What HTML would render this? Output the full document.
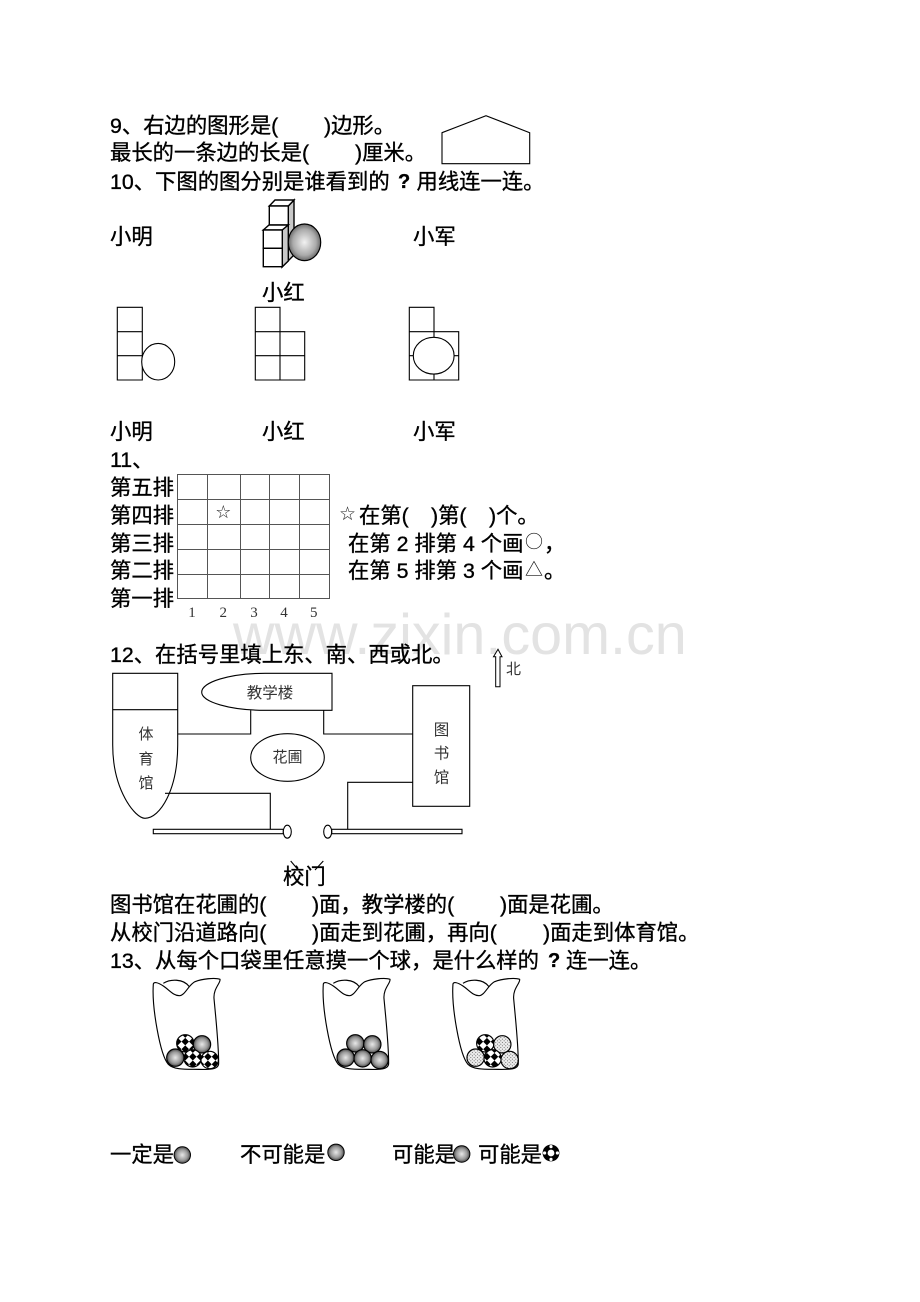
<!DOCTYPE html>
<html lang="zh"><head><meta charset="utf-8"><title>diagram</title>
<style>
html,body{margin:0;padding:0;background:#fff}
svg{display:block}
.t{font-family:"Liberation Sans","WenQuanYi Zen Hei","Noto Sans CJK SC",sans-serif;font-size:21.33px;fill:#000;stroke:#000;stroke-width:.35px}
.c{font-family:"Noto Sans CJK SC",sans-serif;font-size:18px;fill:#111}
.s{font-family:"Liberation Serif","Noto Sans CJK SC",serif;fill:#333;text-anchor:middle}
.l{fill:none;stroke:#000;stroke-width:1.1}
.g{fill:none;stroke:#555;stroke-width:1}
</style></head><body>
<svg width="920" height="1302" viewBox="0 0 920 1302" xmlns="http://www.w3.org/2000/svg">
<defs>
<radialGradient id="b" cx=".5" cy=".5" r=".55"><stop offset="0" stop-color="#e8e8e8"/><stop offset=".6" stop-color="#999"/><stop offset="1" stop-color="#333"/></radialGradient>
<radialGradient id="big" cx=".5" cy=".5" r=".55"><stop offset="0" stop-color="#f2f2f2"/><stop offset=".65" stop-color="#aaa"/><stop offset="1" stop-color="#555"/></radialGradient>
<pattern id="ch" width="32" height="32" patternUnits="userSpaceOnUse" patternTransform="rotate(45)"><rect width="32" height="32" fill="#fff"/><rect width="16" height="16" fill="#000"/><rect x="16" y="16" width="16" height="16" fill="#000"/></pattern>
<pattern id="dt" width="10" height="10" patternUnits="userSpaceOnUse"><rect width="10" height="10" fill="#eee"/><circle cx="2.5" cy="2.5" r="1.3" fill="#222"/><circle cx="7.5" cy="7.5" r="1.3" fill="#222"/></pattern>
<path id="bag" d="M40,42 C42,34 55,38 70,48 C88,60 100,77 118,77 C135,77 145,45 165,35 C185,27 225,22 240,28 C243,38 220,55 222,85 C226,130 236,220 236,280 C236,302 200,298 160,298 C130,298 100,298 85,283 C60,255 35,110 40,42 Z M70,40 C90,27 130,25 148,50" fill="none" stroke="#000" stroke-width="3.4"/>
</defs>
<rect width="920" height="1302" fill="#fff"/>

<text x="233" y="654" font-family="Liberation Sans" font-size="57.5" fill="#e3e3e3">www.zixin.com.cn</text>

<!-- Q9 -->
<text class="t" x="110" y="133">9、右边的图形是(</text><text class="t" x="324" y="133">)边形。</text>
<text class="t" x="110" y="160">最长的一条边的长是(</text><text class="t" x="355" y="160">)厘米。</text>
<path class="l" d="M442,132.7 L486,115.7 L529.7,132.7 V163.7 H442 Z"/>
<text class="t" x="110" y="189">10、下图的图分别是谁看到的</text><text class="t" x="398" y="188" style="font-size:20px;font-weight:bold">?</text><text class="t" x="416.5" y="189">用线连一连。</text>

<text class="t" x="110" y="244">小明</text><text class="t" x="413" y="244">小军</text><text class="t" x="262" y="300">小红</text>

<!-- cubes -->
<g stroke="#000" stroke-width="1.4">
<path d="M288.3,206 L294,200 V255 L282,267 V225 H288.3 Z" fill="#c8c8c8"/>
<path d="M269.3,206 L275,200 H294 L288.3,206 Z" fill="#fff"/>
<rect x="269.3" y="206" width="19" height="19" fill="#fff"/>
<path d="M263.3,230 L269,225 H288.3 L282.3,230 Z" fill="#fff"/>
<path d="M282.3,230 L288.3,225 V261 L282.3,266.7 Z" fill="#c8c8c8"/>
<rect x="263.3" y="230" width="19" height="18.3" fill="#fff"/>
<rect x="263.3" y="248.3" width="19" height="18.4" fill="#fff"/>
</g>
<ellipse cx="304.5" cy="242.3" rx="16.2" ry="18.3" fill="url(#big)" stroke="#000" stroke-width="1.2"/>

<!-- views -->
<g class="l">
<path class="l" d="M117.3,307.3 H142.3 V380 H117.3 Z M117.3,331.7 H142.3 M117.3,355.7 H142.3"/>
<ellipse cx="158.2" cy="361.7" rx="16.5" ry="18.3" fill="#fff" stroke="#000" stroke-width="1.1"/>
<path class="l" d="M255.3,307.3 H280 V331.7 H304.7 V380 H255.3 Z M255.3,331.7 H280 V380 M255.3,355.7 H304.7"/>
<path class="l" d="M409.3,307.3 H434 V331.7 H458.7 V380 H409.3 Z M409.3,331.7 H434 V380 M409.3,355.7 H458.7"/>
<ellipse cx="433.7" cy="355.7" rx="20.4" ry="18.4" fill="#fff" stroke="#000" stroke-width="1.1"/>
</g>
<text class="t" x="110" y="439">小明</text><text class="t" x="262" y="439">小红</text><text class="t" x="413" y="439">小军</text>

<!-- Q11 -->
<text class="t" x="110" y="467">11、</text>
<text class="t" x="110" y="495">第五排</text><text class="t" x="110" y="523">第四排</text><text class="t" x="110" y="551">第三排</text><text class="t" x="110" y="578">第二排</text><text class="t" x="110" y="606">第一排</text>
<path class="g" d="M177.5,474.5 H329.5 V598.5 H177.5 Z M177.5,499.5 H329.5 M177.5,524.5 H329.5 M177.5,549.5 H329.5 M177.5,574.5 H329.5 M207.5,474.5 V598.5 M240.5,474.5 V598.5 M269.5,474.5 V598.5 M299.5,474.5 V598.5"/>
<text class="s" x="223.3" y="518" font-size="18" style="font-family:'DejaVu Sans',sans-serif;fill:#222">☆</text>
<g class="s" font-size="15"><text class="s" x="192" y="617">1</text><text class="s" x="223.3" y="617">2</text><text class="s" x="254" y="617">3</text><text class="s" x="284" y="617">4</text><text class="s" x="313.7" y="617">5</text></g>
<text x="347.5" y="520" font-size="19" text-anchor="middle" style="font-family:'DejaVu Sans',sans-serif;fill:#222">☆</text>
<text class="t" x="359" y="523">在第(</text><text class="t" x="431" y="523">)第(</text><text class="t" x="489" y="523">)个。</text>
<text class="t" x="348" y="551">在第 2 排第 4 个画</text><text class="c" x="525" y="548">○</text><text class="t" x="544" y="551">，</text>
<text class="t" x="348" y="578">在第 5 排第 3 个画</text><text class="c" x="525" y="576">△</text><text class="t" x="544" y="578">。</text>

<!-- Q12 -->
<text class="t" x="110" y="662">12、在括号里填上东、南、西或北。</text>
<path d="M495.7,686.7 V656.7 H493.5 L498,649.3 L502,656.7 H500 V686.7 Z" fill="#fff" stroke="#000" stroke-width="1"/>
<text class="s" x="513.5" y="674" font-size="15">北</text>

<path class="l" d="M112.7,673.3 H177.7 V709.7 H112.7 Z M112.7,709.7 V745 C112.7,790 135,818.3 145,818.3 C160,818.3 177.7,790 177.7,745 V709.7"/>
<g font-size="15"><text class="s" x="146" y="739" font-size="15">体</text><text class="s" x="146" y="764" font-size="15">育</text><text class="s" x="146" y="788" font-size="15">馆</text></g>
<path class="l" d="M332,673.3 H265 C230,673.3 201.7,682 201.7,692.3 C201.7,702 230,710.3 265,710.3 H332 Z"/>
<text class="s" x="270" y="698" font-size="15.5">教学楼</text>
<path class="l" d="M250.7,710.3 V734 H177.7 M323.7,710.3 V734 H412.7"/>
<rect class="l" x="412.7" y="685.7" width="57" height="120.6"/>
<text class="s" x="441.5" y="735" font-size="15.5">图</text><text class="s" x="441.5" y="758.5" font-size="15.5">书</text><text class="s" x="441.5" y="782.5" font-size="15.5">馆</text>
<ellipse class="l" cx="287.5" cy="757.5" rx="36.8" ry="23.8"/>
<text class="s" x="287.5" y="762" font-size="15">花圃</text>
<path class="l" d="M165,793.3 H270.3 V829.3 M412.7,782.3 H347.7 V829.3"/>
<rect class="l" x="153.3" y="829.3" width="130" height="4.4"/>
<ellipse class="l" cx="287.3" cy="831.7" rx="4" ry="6.5" style="fill:#fff"/>
<ellipse class="l" cx="327.7" cy="831.7" rx="4" ry="6.5" style="fill:#fff"/>
<rect class="l" x="331.7" y="829.3" width="130.3" height="4.4"/>
<path class="l" d="M290.7,861 L298.3,870 M323.3,861 L315,870"/>
<text class="t" x="283" y="884">校门</text>

<text class="t" x="110" y="912">图书馆在花圃的(</text><text class="t" x="312" y="912">)面，教学楼的(</text><text class="t" x="500" y="912">)面是花圃。</text>
<text class="t" x="110" y="940">从校门沿道路向(</text><text class="t" x="312" y="940">)面走到花圃，再向(</text><text class="t" x="543" y="940">)面走到体育馆。</text>
<text class="t" x="110" y="968">13、从每个口袋里任意摸一个球，是什么样的</text><text class="t" x="548" y="967" style="font-size:20px;font-weight:bold">?</text><text class="t" x="566" y="968">连一连。</text>

<!-- bags -->
<g transform="translate(140,970) scale(.3333)">
<use href="#bag"/><use href="#bag" x="510"/><use href="#bag" x="899"/>
<g stroke="#000" stroke-width="3.5">
<circle cx="136" cy="220" r="26" fill="url(#ch)"/><circle cx="186" cy="223" r="26" fill="url(#b)"/><circle cx="106" cy="263" r="26" fill="url(#b)"/><circle cx="158" cy="265" r="26" fill="url(#ch)"/><circle cx="209" cy="270" r="26" fill="url(#ch)"/>
<circle cx="646" cy="220" r="26" fill="url(#b)"/><circle cx="697" cy="223" r="26" fill="url(#b)"/><circle cx="617" cy="263" r="26" fill="url(#b)"/><circle cx="668" cy="265" r="26" fill="url(#b)"/><circle cx="719" cy="270" r="26" fill="url(#b)"/>
<circle cx="1036" cy="220" r="26" fill="url(#ch)"/><circle cx="1087" cy="223" r="26" fill="url(#dt)"/><circle cx="1007" cy="263" r="26" fill="url(#dt)"/><circle cx="1058" cy="265" r="26" fill="url(#ch)"/><circle cx="1109" cy="270" r="26" fill="url(#dt)"/>
</g>
</g>

<!-- bottom row -->
<text class="t" x="110" y="1162">一定是</text>
<circle cx="182.3" cy="1155" r="8.2" fill="url(#b)" stroke="#000"/>
<text class="t" x="240" y="1162">不可能是</text>
<circle cx="336" cy="1152.3" r="8.2" fill="url(#b)" stroke="#000"/>
<text class="t" x="392" y="1162">可能是</text>
<circle cx="461.7" cy="1154" r="8.2" fill="url(#b)" stroke="#000"/>
<text class="t" x="478" y="1162">可能是</text>
<circle cx="551" cy="1153" r="8.4" fill="#000"/>
<circle cx="551" cy="1153" r="3.4" fill="#fff"/>
<g fill="#fff"><circle cx="551" cy="1146.6" r="1.6"/><circle cx="551" cy="1159.4" r="1.6"/><circle cx="544.6" cy="1153" r="1.6"/><circle cx="557.4" cy="1153" r="1.6"/></g>
</svg>
</body></html>
